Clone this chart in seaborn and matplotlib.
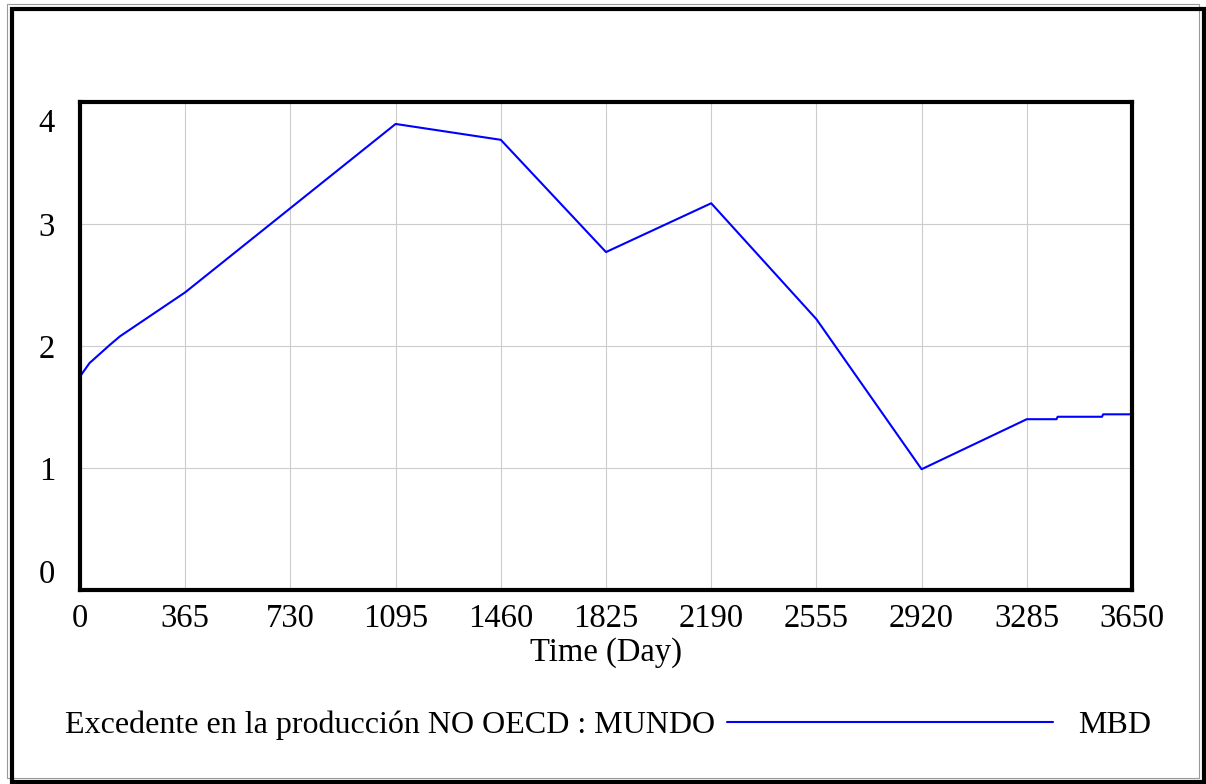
import matplotlib
matplotlib.use("Agg")
import matplotlib.pyplot as plt
from matplotlib.patches import Rectangle
from matplotlib.lines import Line2D
from matplotlib.transforms import ScaledTranslation
import seaborn as sns
import pandas as pd

# Simulation output: production surplus of non-OECD countries (MBD)
days = [0, 33, 104, 139, 365, 1095, 1460, 1825, 2190, 2555, 2920, 3285, 3388, 3392, 3546, 3550, 3650]
surplus = [1.75, 1.86, 2.01, 2.08, 2.44, 3.82, 3.69, 2.77, 3.17, 2.22, 0.99, 1.40, 1.40, 1.42, 1.42, 1.44, 1.44]

x_ticks = [0, 365, 730, 1095, 1460, 1825, 2190, 2555, 2920, 3285, 3650]
y_ticks = [0, 1, 2, 3, 4]

series_label = "Excedente en la producción NO OECD : MUNDO"
units_label = "MBD"
x_label = "Time (Day)"

sns.set_theme(style="white")
plt.rcParams["font.family"] = ["Liberation Serif", "DejaVu Serif"]

W, H = 1206, 784
fig = plt.figure(figsize=(W / 100, H / 100), dpi=100)
ax = fig.add_axes([80 / W, 1 - 590 / H, 1052 / W, 488 / H])

df = pd.DataFrame({"day": days, "value": surplus})
sns.lineplot(data=df, x="day", y="value", ax=ax, color="#0000ff", linewidth=1.5)

ax.set_xlim(0, 3650)
ax.set_ylim(0, 4)
ax.set_xticks(x_ticks)
ax.set_xticklabels([str(t) for t in x_ticks])
ax.set_yticks(y_ticks)
ax.set_yticklabels([str(t) for t in y_ticks])
ax.grid(True, color="#cccccc", linewidth=0.8)
ax.tick_params(axis="both", length=0, labelsize=23.5, colors="black")
ax.tick_params(axis="x", pad=10)
ax.tick_params(axis="y", pad=18)

# keep the end labels of the value axis inside the frame
ylabels = ax.get_yticklabels()
ylabels[0].set_verticalalignment("bottom")
ylabels[-1].set_verticalalignment("top")
ylabels[-1].set_transform(ylabels[-1].get_transform()
                          + ScaledTranslation(0, -7 / 100, fig.dpi_scale_trans))

for s in ax.spines.values():
    s.set_visible(True)
    s.set_color("black")
    s.set_linewidth(3)

ax.set_xlabel(x_label, fontsize=23.5, labelpad=2, color="black")
ax.set_ylabel("")

# legend row: name, line sample, units
fig.text(65 / W, 1 - 733 / H, series_label, fontsize=23, ha="left", va="baseline", color="black")
fig.add_artist(Line2D([727 / W, 1053 / W], [1 - 722 / H, 1 - 722 / H],
                      transform=fig.transFigure, color="#0000ff", linewidth=1.5))
fig.text(1078 / W, 1 - 733 / H, units_label, fontsize=23, ha="left", va="baseline", color="black")

# double window frame
fig.add_artist(Rectangle((7 / W, 1 - 778 / H), 1192 / W, 774.5 / H, transform=fig.transFigure,
                         fill=False, edgecolor="#999999", linewidth=0.8))
fig.add_artist(Rectangle((12 / W, 1 - 782 / H), 1191.5 / W, 773 / H, transform=fig.transFigure,
                         fill=False, edgecolor="black", linewidth=3))

fig.savefig("out.png", dpi=100)
